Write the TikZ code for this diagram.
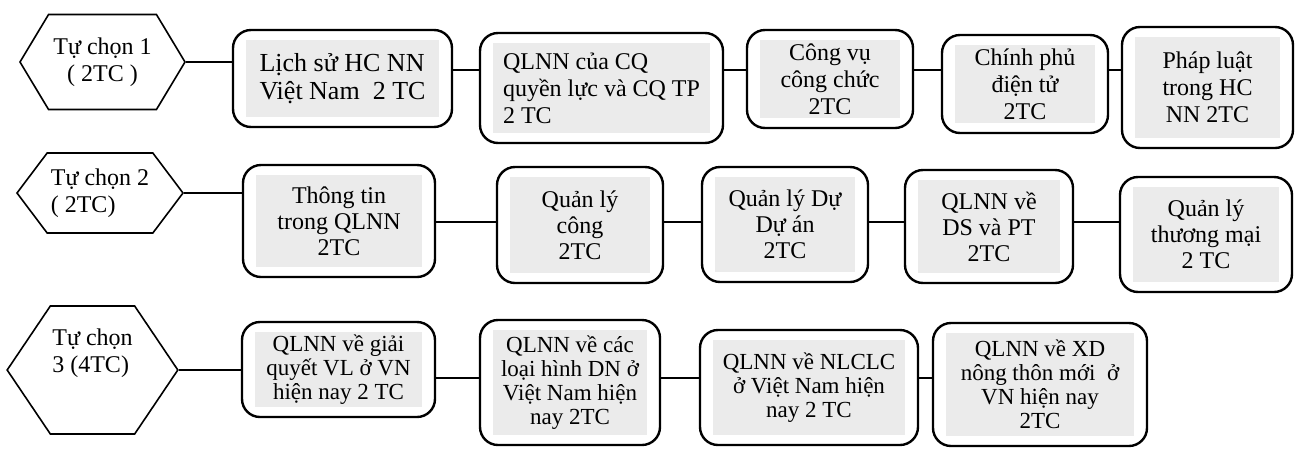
\documentclass[tikz,border=0pt]{standalone}
\usepackage{fontspec}
\setmainfont{Liberation Serif}
\usetikzlibrary{shapes.symbols}
\newcommand{\Tchoice}{Tự chọn}
\tikzstyle{course} = [draw=black, line width=2.4pt, rounded corners=18pt, inner sep=4pt, align=center, font=\fontsize{24}{27}\selectfont, path picture={\fill[black!8, sharp corners] ([shift={(13pt,-10pt)}]path picture bounding box.north west) rectangle ([shift={(-13pt,10pt)}]path picture bounding box.south east);}]
\tikzstyle{choice} = [signal, signal to=west and east, draw=black, line width=1.6pt, inner sep=2pt, font=\fontsize{24}{27}\selectfont]

\begin{document}
\begin{tikzpicture}[x=1pt, y=-1pt, link/.style={draw=black, line width=1.8pt}]
%\draw [help lines, step=50] (0,0) grid (1296,448);
\useasboundingbox (0,0) rectangle (1296,448);

% Define nodes
\node[choice, align=center, minimum width=165pt, minimum height=95pt, signal pointer angle=118]  (h1) at (102.5,62)  {\Tchoice{} 1\\( 2TC~)};
\node[course, minimum width=219pt, minimum height=97pt, align=left, font=\fontsize{26}{28}\selectfont] (b11) at (342.5,78.5) {Lịch sử HC NN\\Việt Nam~ 2 TC};
\node[course, minimum width=243pt, minimum height=110pt, align=left]  (b12) at (601.5,88)   {QLNN của CQ\\quyền lực và CQ TP\\2 TC};
\node[course, minimum width=166pt, minimum height=98pt]               (b13) at (830,79)     {Công vụ\\công chức\\2TC};
\node[course, minimum width=166pt, minimum height=98pt]               (b14) at (1025,84)    {Chính phủ\\điện tử\\2TC};
\node[course, minimum width=171pt, minimum height=121pt]              (b15) at (1207.5,87.5) {Pháp luật\\trong HC\\NN 2TC};

\node[choice, align=left, minimum width=166pt, minimum height=80pt, signal pointer angle=106]    (h2) at (100,193)   {\Tchoice{} 2\\( 2TC)};
\node[course, minimum width=192pt, minimum height=112pt, font=\fontsize{24}{26}\selectfont] (b21) at (339,221)   {Thông tin\\trong QLNN\\2TC};
\node[course, minimum width=166pt, minimum height=116pt, font=\fontsize{24}{26}\selectfont] (b22) at (580,225)   {Quản lý\\công\\2TC};
\node[course, minimum width=166pt, minimum height=115pt, font=\fontsize{24}{26}\selectfont] (b23) at (785,224.5) {Quản lý Dự\\Dự án\\2TC};
\node[course, minimum width=168pt, minimum height=113pt, font=\fontsize{24}{26}\selectfont] (b24) at (989,226.5) {QLNN về\\DS và PT\\2TC};
\node[course, minimum width=172pt, minimum height=115pt, font=\fontsize{24}{26}\selectfont] (b25) at (1206,234.5) {Quản lý\\thương mại\\2 TC};

\node[choice, align=left, minimum width=165pt, minimum height=128pt, signal pointer angle=112]   (h3) at (92.5,370)  {\Tchoice\\3 (4TC)\\[12pt]};
\node[course, minimum width=193pt, minimum height=95pt, font=\fontsize{23}{24}\selectfont]  (b31) at (338.5,369.5) {QLNN về giải\\quyết VL ở VN\\hiện nay 2 TC};
\node[course, minimum width=180pt, minimum height=125pt, font=\fontsize{23}{24}\selectfont] (b32) at (570,382.5)   {QLNN về các\\loại hình DN ở\\Việt Nam hiện\\nay 2TC};
\node[course, minimum width=218pt, minimum height=115pt, font=\fontsize{23}{24}\selectfont] (b33) at (809,387.5)   {QLNN về NLCLC\\ở Việt Nam hiện\\nay 2 TC};
\node[course, minimum width=214pt, minimum height=123pt, font=\fontsize{23}{24}\selectfont] (b34) at (1040,384.5)  {QLNN về XD\\nông thôn mới~ ở\\VN hiện nay\\2TC};

% Row levels
\coordinate (l1) at (0,70);
\coordinate (l2) at (0,222);
\coordinate (l3) at (0,378);

% Edges
\draw[link] (h1.east) -- (h1.east -| b11.west);
\draw[link] (b11.east |- l1) -- (b12.west |- l1);
\draw[link] (b12.east |- l1) -- (b13.west |- l1);
\draw[link] (b13.east |- l1) -- (b14.west |- l1);
\draw[link] (b14.east |- l1) -- (b15.west |- l1);

\draw[link] (h2.east) -- (h2.east -| b21.west);
\draw[link] (b21.east |- l2) -- (b22.west |- l2);
\draw[link] (b22.east |- l2) -- (b23.west |- l2);
\draw[link] (b23.east |- l2) -- (b24.west |- l2);
\draw[link] (b24.east |- l2) -- (b25.west |- l2);

\draw[link] (h3.east) -- (h3.east -| b31.west);
\draw[link] (b31.east |- l3) -- (b32.west |- l3);
\draw[link] (b32.east |- l3) -- (b33.west |- l3);
\draw[link] (b33.east |- l3) -- (b34.west |- l3);
\end{tikzpicture}
\end{document}
